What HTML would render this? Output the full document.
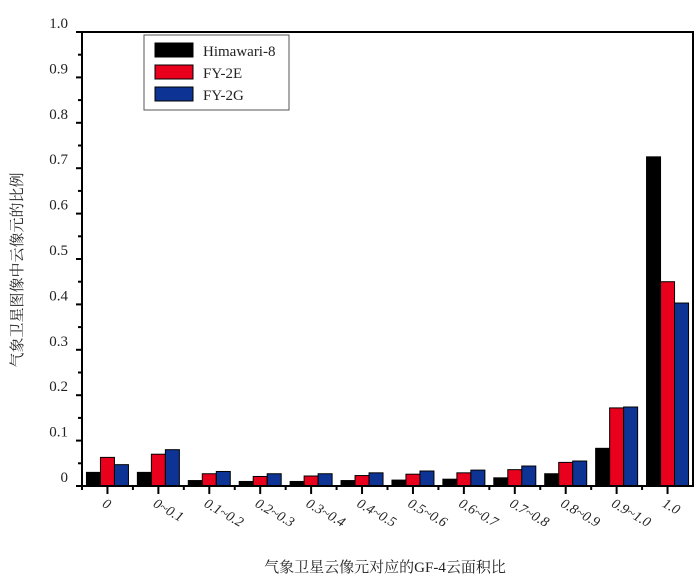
<!DOCTYPE html>
<html><head><meta charset="utf-8"><style>
body{margin:0;background:#fff;}
svg text{font-family:"Liberation Serif","Noto Serif CJK SC",serif;fill:#222;}
</style></head><body>
<svg id="chart" width="700" height="583" xmlns="http://www.w3.org/2000/svg"></svg>
<script>
const categories=["0","0~0.1","0.1~0.2","0.2~0.3","0.3~0.4","0.4~0.5","0.5~0.6","0.6~0.7","0.7~0.8","0.8~0.9","0.9~1.0","1.0"];
const himawari=[0.03,0.03,0.012,0.01,0.01,0.012,0.013,0.015,0.018,0.027,0.083,0.725];
const fy2e=[0.063,0.07,0.027,0.021,0.022,0.023,0.026,0.029,0.036,0.052,0.172,0.45];
const fy2g=[0.047,0.08,0.032,0.027,0.027,0.029,0.033,0.035,0.044,0.055,0.174,0.403];
const yTicks=["0","0.1","0.2","0.3","0.4","0.5","0.6","0.7","0.8","0.9","1.0"];
const seriesNames=["Himawari-8","FY-2E","FY-2G"];
const colors=["#000000","#e8001c","#0d3494"];

const NS="http://www.w3.org/2000/svg";
const svg=document.getElementById('chart');
const L=82,R=693,T=32,B=486;
const bw=(R-L)/categories.length;
const y=v=>B-v*(B-T);
const xc=i=>L+bw*(i+0.5);
function mk(tag,at,txt){const e=document.createElementNS(NS,tag);for(const k in at)e.setAttribute(k,at[k]);if(txt!==undefined)e.textContent=txt;svg.appendChild(e);return e;}

const series=[himawari,fy2e,fy2g];
series.forEach((s,si)=>{
  s.forEach((v,i)=>{
    const r=mk('rect',{x:xc(i)-21+si*14,y:y(v),width:14,height:B-y(v),fill:colors[si],stroke:'#000','stroke-width':1});
    
    
  });
});

const frame=mk('rect',{x:L,y:T,width:R-L,height:B-T,fill:'none',stroke:'#000','stroke-width':2});



yTicks.forEach((t,i)=>{
  const v=parseFloat(t);
  mk('line',{x1:L,x2:L-6,y1:y(v),y2:y(v),stroke:'#000','stroke-width':2});
  if(i<yTicks.length-1)mk('line',{x1:L,x2:L-4,y1:y(v+0.05),y2:y(v+0.05),stroke:'#000','stroke-width':2});
  const tx=mk('text',{x:68,y:y(v)-4,'font-size':15,'text-anchor':'end'},t);
  
  
});

categories.forEach((c,i)=>{
  mk('line',{x1:xc(i),x2:xc(i),y1:B,y2:B+8,stroke:'#000','stroke-width':2});
  mk('line',{x1:L+bw*i,x2:L+bw*i,y1:B,y2:B+4,stroke:'#000','stroke-width':2});
  const tx=mk('text',{x:xc(i)-6,y:B+20,'font-size':14,'font-style':'italic',transform:`rotate(30 ${xc(i)-6} ${B+20})`},c);
  
  
});

const yt=mk('text',{x:22,y:270,'font-size':15,'text-anchor':'middle',transform:'rotate(-90 22 270)'},'气象卫星图像中云像元的比例');


const xt=mk('text',{x:385,y:572,'font-size':15,'text-anchor':'middle'},'气象卫星云像元对应的GF-4云面积比');



const lg=mk('rect',{x:144,y:35,width:145,height:75,fill:'#fff',stroke:'#555','stroke-width':1});


seriesNames.forEach((n,i)=>{
  const sw=mk('rect',{x:155,y:43+i*22,width:38,height:14,fill:colors[i],stroke:'#000','stroke-width':1});
  
  
  const t=mk('text',{x:203,y:56+i*22,'font-size':15},n);
  
  
});
</script>
</body></html>
